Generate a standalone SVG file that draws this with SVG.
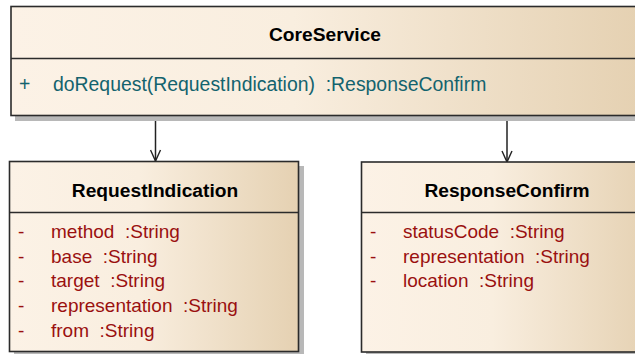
<svg xmlns="http://www.w3.org/2000/svg" width="635" height="354" viewBox="0 0 635 354">
<defs>
  <linearGradient id="fill" x1="0" y1="0" x2="1" y2="0">
    <stop offset="0" stop-color="#FCF2E6"/>
    <stop offset="0.45" stop-color="#F9EEDF"/>
    <stop offset="1" stop-color="#E5D1B2"/>
  </linearGradient>
  <marker id="open" markerWidth="14" markerHeight="12" refX="12" refY="6" orient="auto" markerUnits="userSpaceOnUse" viewBox="0 0 14 12">
    <path d="M1,1 L12,6 L1,11" fill="none" stroke="#222" stroke-width="1.4"/>
  </marker>
</defs>
<style>
  .box { fill: url(#fill); stroke: #2b2b2b; stroke-width: 1.6; }
  .shadow { fill: #B8B8B8; }
  .div { stroke: #2b2b2b; stroke-width: 1.6; }
  .title { font-family: "Liberation Sans", Arial, sans-serif; font-size: 19.2px; font-weight: bold; fill: #000; text-anchor: middle; }
  .op { font-family: "Liberation Sans", Arial, sans-serif; font-size: 19.4px; fill: #13636E; white-space: pre; }
  .attr { font-family: "Liberation Sans", Arial, sans-serif; font-size: 19px; fill: #9A1010; white-space: pre; }
  .conn { stroke: #222; stroke-width: 1.5; fill: none; }
</style>
<rect width="635" height="354" fill="#ffffff"/>
<g id="connectors">
  <line class="conn" x1="155.5" y1="116" x2="155.5" y2="161" marker-end="url(#open)"/>
  <line class="conn" x1="507" y1="116" x2="507" y2="162" marker-end="url(#open)"/>
</g>
<g id="CoreService">
  <rect class="shadow" x="15" y="11" width="628" height="110"/>
  <rect class="box" x="11" y="6.5" width="628" height="109"/>
  <line class="div" x1="11" y1="58.5" x2="639" y2="58.5"/>
  <text class="title" x="325" y="41">CoreService</text>
  <text class="op" x="19" y="91">+</text>
  <text class="op" x="53" y="91">doRequest(RequestIndication)&#160;&#160;:ResponseConfirm</text>
</g>
<g id="RequestIndication">
  <rect class="shadow" x="14" y="166" width="290" height="190"/>
  <rect class="box" x="9.5" y="161.5" width="289" height="190"/>
  <line class="div" x1="9.5" y1="212.5" x2="298.5" y2="212.5"/>
  <text class="title" x="155" y="197">RequestIndication</text>
  <text class="attr" x="18" y="238">-</text>
  <text class="attr" x="51" y="238">method&#160;&#160;:String</text>
  <text class="attr" x="18" y="262.7">-</text>
  <text class="attr" x="51" y="262.7">base&#160;&#160;:String</text>
  <text class="attr" x="18" y="287.4">-</text>
  <text class="attr" x="51" y="287.4">target&#160;&#160;:String</text>
  <text class="attr" x="18" y="312.1">-</text>
  <text class="attr" x="51" y="312.1">representation&#160;&#160;:String</text>
  <text class="attr" x="18" y="336.8">-</text>
  <text class="attr" x="51" y="336.8">from&#160;&#160;:String</text>
</g>
<g id="ResponseConfirm">
  <rect class="shadow" x="366" y="166.5" width="290" height="190"/>
  <rect class="box" x="361.5" y="162" width="290" height="190"/>
  <line class="div" x1="361.5" y1="212.5" x2="651.5" y2="212.5"/>
  <text class="title" x="507" y="197">ResponseConfirm</text>
  <text class="attr" x="370" y="238">-</text>
  <text class="attr" x="403" y="238">statusCode&#160;&#160;:String</text>
  <text class="attr" x="370" y="262.7">-</text>
  <text class="attr" x="403" y="262.7">representation&#160;&#160;:String</text>
  <text class="attr" x="370" y="287.4">-</text>
  <text class="attr" x="403" y="287.4">location&#160;&#160;:String</text>
</g>
</svg>
